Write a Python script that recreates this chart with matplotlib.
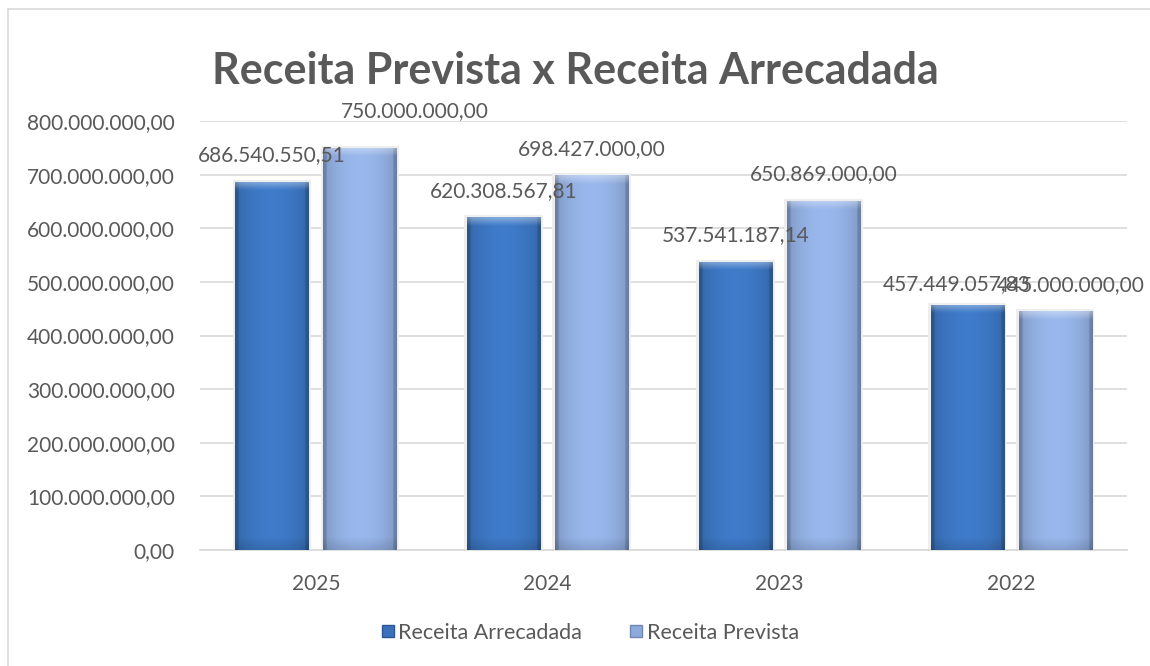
import matplotlib.pyplot as plt
import matplotlib.colors as mcolors
from matplotlib.lines import Line2D
from matplotlib.patches import Rectangle
import numpy as np

plt.rcParams['font.family'] = ['Lato', 'DejaVu Sans']

years = ['2025', '2024', '2023', '2022']
arrecadada = [686540550.51, 620308567.81, 537541187.14, 457449057.83]
prevista = [750000000.00, 698427000.00, 650869000.00, 445000000.00]
series_names = ['Receita Arrecadada', 'Receita Prevista']

# label nudges in pixels (excel moved some overlapping labels)
nudge_arr = [(0, 0), (0, 0), (0, 0), (-10, -6)]
nudge_prev = [(55, 10), (0, 0), (0, 0), (16, 0)]

dark = '#3a72bb'
light = '#8eaadb'
txt = '#595959'
grid = '#d9d9d9'


def fmt(v):
    s = f'{v:,.2f}'
    return s.replace(',', 'X').replace('.', ',').replace('X', '.')


def shade(ax, bar, base):
    # fake the excel bevel look with an image clipped to the bar
    x0, y0 = bar.get_x(), bar.get_y()
    w, h = bar.get_width(), bar.get_height()
    ny, nx = 200, 60
    c = np.array(mcolors.to_rgb(base))
    xs = np.linspace(0, 1, nx)
    prof = 0.86 + 0.22 * np.sin(np.pi * xs) ** 0.6
    prof[:3] *= 0.85
    prof[-3:] *= 0.85
    img = np.ones((ny, nx, 3)) * c
    img = img * prof[None, :, None]
    ys = np.linspace(1, 0, ny) * h  # top row first
    bev = 15e6
    top = np.clip(1 - (h - ys) / bev, 0, 1)
    img = img + (1 - img) * 0.35 * top[:, None, None]
    bot = np.clip(1 - ys / (bev * 1.5), 0, 1)
    img = img * (1 - 0.12 * bot[:, None, None])
    img = np.clip(img, 0, 1)
    im = ax.imshow(img, extent=(x0, x0 + w, y0, y0 + h), aspect='auto',
                   zorder=3, interpolation='bilinear')
    im.set_clip_path(bar)


fig = plt.figure(figsize=(11.5, 6.66), dpi=100)
ax = fig.add_axes([200 / 1150, 1 - 550 / 666, 927 / 1150, 429 / 666])

x = np.arange(len(years))
w = 0.315
b1 = ax.bar(x - 0.19, arrecadada, w, color=dark, zorder=2)
b2 = ax.bar(x + 0.19, prevista, w, color=light, zorder=2)

for bars, base in ((b1, dark), (b2, light)):
    for bar in bars:
        # soft shadow
        ax.add_patch(Rectangle((bar.get_x() - 0.012, 0), bar.get_width() + 0.024,
                               bar.get_height() + 4e6, color='#eeeeee', zorder=1.5, lw=0))
        shade(ax, bar, base)

for bars, vals, nud in ((b1, arrecadada, nudge_arr), (b2, prevista, nudge_prev)):
    for bar, v, (dx, dy) in zip(bars, vals, nud):
        ax.annotate(fmt(v), (bar.get_x() + bar.get_width() / 2, v),
                    xytext=(dx * 0.72, 19 + dy * 0.72), textcoords='offset points',
                    ha='center', va='center', fontsize=15, color=txt, zorder=5)

ax.set_xlim(-0.5, 3.5)
ax.set_ylim(0, 800e6)
ax.set_yticks(np.arange(0, 800e6 + 1, 100e6))
ax.set_yticklabels([fmt(v) for v in np.arange(0, 800e6 + 1, 100e6)])
ax.set_xticks(x)
ax.set_xticklabels(years)
ax.tick_params(axis='both', length=0, labelsize=15, colors=txt)
ax.tick_params(axis='y', pad=18)
ax.tick_params(axis='x', pad=17)
ax.grid(axis='y', color=grid, lw=1.2, zorder=0)
ax.set_axisbelow(True)
for s in ['top', 'right', 'left']:
    ax.spines[s].set_visible(False)
ax.spines['bottom'].set_color(grid)
ax.spines['bottom'].set_linewidth(1.2)

fig.text(575 / 1150, 1 - 71 / 666, 'Receita Prevista x Receita Arrecadada',
         ha='center', va='center', fontsize=31, fontweight='bold', color=txt)

# chart border (left and top visible)
fig.add_artist(Line2D([8 / 1150, 8 / 1150], [0, 1 - 9 / 666], color=grid, lw=1.2))
fig.add_artist(Line2D([8 / 1150, 1], [1 - 9 / 666, 1 - 9 / 666], color=grid, lw=1.2))

handles = [Line2D([], [], marker='s', ls='', markersize=8, markerfacecolor=c,
                  markeredgecolor='#2f5597' if c == dark else '#6f86b4') for c in (dark, light)]
fig.legend(handles, series_names, loc='center', bbox_to_anchor=(588 / 1150, 1 - 633 / 666),
           ncol=2, frameon=False, fontsize=15.5, labelcolor=txt, handletextpad=0.0,
           columnspacing=2.0, handlelength=1.0)

fig.savefig('out.png', dpi=100)
